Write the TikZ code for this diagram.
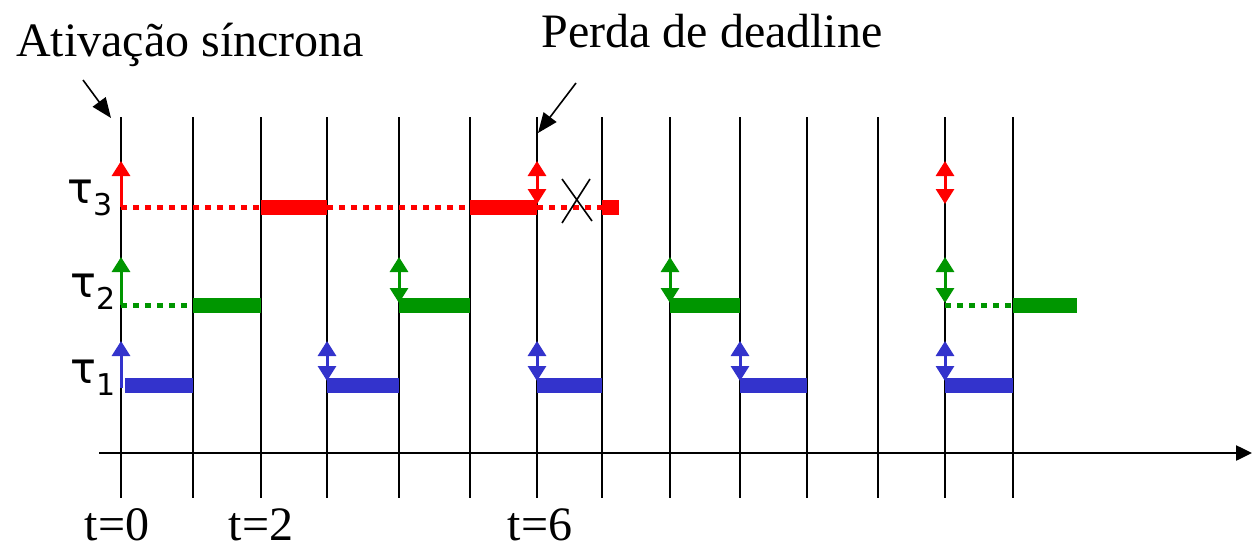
\documentclass[tikz,border=0pt]{standalone}
\usepackage{fontspec}
\setmainfont{Liberation Serif}
\newfontfamily\taufont{DejaVu Sans}
\usepackage{tikz}
\usetikzlibrary{arrows.meta,calc}

\definecolor{taured}{RGB}{255,0,0}
\definecolor{taugreen}{RGB}{0,150,0}
\definecolor{taublue}{RGB}{51,51,204}

\begin{document}
\begin{tikzpicture}
[
x=1pt, y=-1pt,
lbl/.style={font=\fontsize{48}{56}\selectfont, inner sep=0pt},
tasklbl/.style={font=\taufont\fontsize{43}{48}\selectfont, inner sep=0pt, anchor=base west},
tlbl/.style={font=\fontsize{48}{52}\selectfont, inner sep=0pt, anchor=base},
tick/.style={draw=black, line width=2pt},
axis/.style={draw=black, line width=2.5pt, -{Triangle[length=16pt 0 0,width=15pt 0 0]}},
ann/.style={draw=black, line width=1.6pt, -{Triangle[length=20pt 0 0,width=16pt 0 0]}},
bar/.style={line width=15pt},
wait/.style={line width=5pt, dash pattern=on 6pt off 6pt},
rel/.style={line width=3pt, -{Triangle[length=15pt 0 0,width=18pt 0 0]}},
reldl/.style={line width=3pt, {Triangle[length=15pt 0 0,width=18pt 0 0]}-{Triangle[length=15pt 0 0,width=18pt 0 0]}}
]
\useasboundingbox (0,0) rectangle (1255,551);

%Grid
\foreach \x [count=\i from 0] in {121,193,261,327,399,470,537,602,670,740,807,878,945,1013,1077}
  \coordinate (t\i) at (\x,453);
\coordinate (top) at (0,117);
\coordinate (bot) at (0,498);
\coordinate (r1) at (0,385);
\coordinate (r2) at (0,305);
\coordinate (r3) at (0,207);
\coordinate (a1) at (0,341);
\coordinate (a2) at (0,257);
\coordinate (a3) at (0,161);
\coordinate (o) at (99,453);
\coordinate (tend) at (1252,453);

%Nodes
\node[lbl]     (sync)     at (190,45)   {Ativação síncrona};
\node[lbl]     (miss)     at (712,31)   {Perda de deadline};
\node[tasklbl] (tau3)     at (67,203)   {τ\raisebox{-12pt}{\fontsize{30}{30}\selectfont 3}};
\node[tasklbl] (tau2)     at (70,297)   {τ\raisebox{-12pt}{\fontsize{30}{30}\selectfont 2}};
\node[tasklbl] (tau1)     at (70,383)   {τ\raisebox{-12pt}{\fontsize{30}{30}\selectfont 1}};
\node[tlbl]    (lt0)      at (117,540)  {t=0};
\node[tlbl]    (lt2)      at (261,540)  {t=2};
\node[tlbl]    (lt6)      at (540,540)  {t=6};
\coordinate (s1) at (83,80);
\coordinate (s2) at (111,118);
\coordinate (m1) at (576,83);
\coordinate (m2) at (538,133);
\coordinate (xm) at (577,201);

%Lines
\foreach \i in {0,...,13}
  \draw[tick] (t\i |- top) -- (t\i |- bot);
\draw[axis] (o) -- (tend);
\draw[ann] (s1) -- (s2);
\draw[ann] (m1) -- (m2);

%tau3
\draw[wait, taured] (t0 |- r3) -- (t2 |- r3);
\draw[bar, taured]  (t2 |- r3) -- (t3 |- r3);
\draw[wait, taured] (t3 |- r3) -- (t5 |- r3);
\draw[bar, taured]  (t5 |- r3) -- (t6 |- r3);
\draw[wait, taured] (t6 |- r3) -- (t7 |- r3);
\draw[bar, taured]  (t7 |- r3) -- ($(t7 |- r3)+(17,0)$);
\draw[rel, taured]   (t0 |- r3) -- (t0 |- a3);
\draw[reldl, taured] ($(t6 |- r3)+(0,-3)$) -- (t6 |- a3);
\draw[reldl, taured] ($(t12 |- r3)+(0,-3)$) -- (t12 |- a3);
\draw[line width=1.6pt] ($(xm)+(-15,-22)$) -- ($(xm)+(15,20)$)
                        ($(xm)+(13,-22)$) -- ($(xm)+(-15,22)$);

%tau2
\draw[wait, taugreen] (t0 |- r2) -- (t1 |- r2);
\draw[bar, taugreen]  (t1 |- r2) -- (t2 |- r2);
\draw[bar, taugreen]  (t4 |- r2) -- (t5 |- r2);
\draw[bar, taugreen]  (t8 |- r2) -- (t9 |- r2);
\draw[wait, taugreen] (t12 |- r2) -- (t13 |- r2);
\draw[bar, taugreen]  (t13 |- r2) -- (t14 |- r2);
\draw[rel, taugreen]   (t0 |- r2) -- (t0 |- a2);
\foreach \i in {4,8,12}
  \draw[reldl, taugreen] ($(t\i |- r2)+(0,-2)$) -- (t\i |- a2);

%tau1
\draw[bar, taublue] ($(t0 |- r1)+(4,0)$) -- (t1 |- r1);
\foreach \i/\j in {3/4,6/7,9/10,12/13}
  \draw[bar, taublue] (t\i |- r1) -- (t\j |- r1);
\draw[rel, taublue]   ($(t0 |- r1)+(0,3)$) -- (t0 |- a1);
\foreach \i in {3,6,9,12}
  \draw[reldl, taublue] ($(t\i |- r1)+(0,-4)$) -- (t\i |- a1);

\end{tikzpicture}
\end{document}
